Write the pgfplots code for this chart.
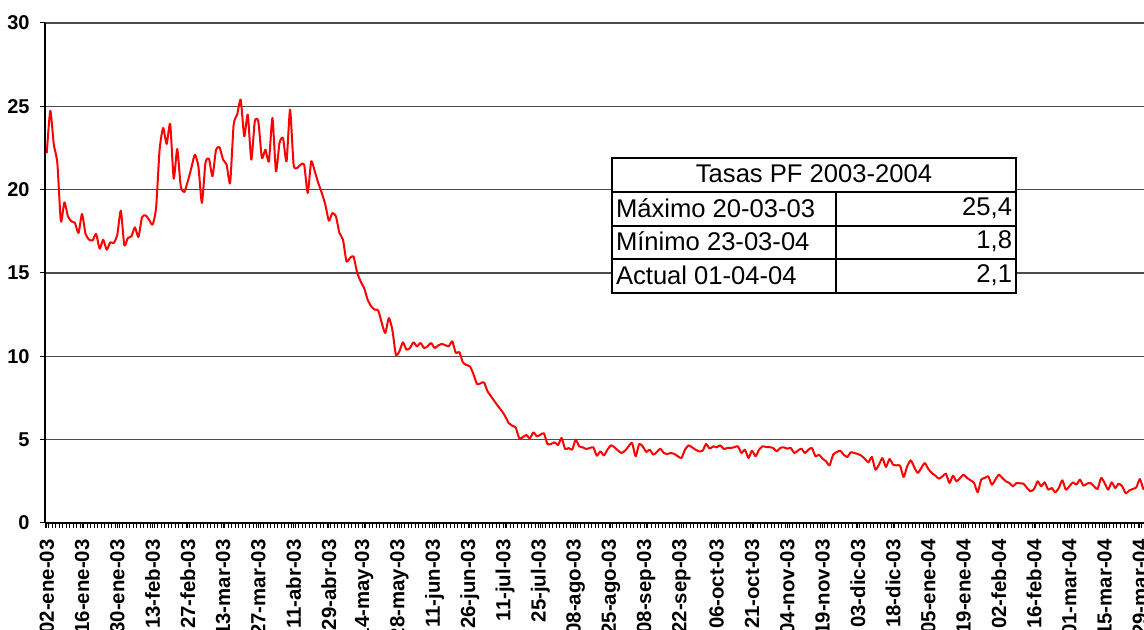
\documentclass[border=0pt]{standalone}
\usepackage{fontspec}
\setmainfont{Liberation Sans}
\usepackage{pgfplots}
\pgfplotsset{compat=1.18}

\begin{document}
\begin{tikzpicture}
\begin{axis}[
    at={(0,0)}, anchor=south west,
    scale only axis,
    width=553.6pt, height=250pt,
    xmin=-0.5, xmax=313.5,
    ymin=0, ymax=30,
    axis x line*=bottom, axis y line*=left,
    axis line style={black, line width=0.6pt},
    ytick={0,5,...,30},
    ymajorgrids,
    major grid style={black!70, line width=0.6pt},
    tick align=outside,
    major tick length=2.5pt,
    minor tick length=2.5pt,
    tick style={black, line width=0.5pt},
    xtick={0,10,...,310},
    xticklabels={02-ene-03,16-ene-03,30-ene-03,13-feb-03,27-feb-03,13-mar-03,27-mar-03,11-abr-03,29-abr-03,14-may-03,28-may-03,11-jun-03,26-jun-03,11-jul-03,25-jul-03,08-ago-03,25-ago-03,08-sep-03,22-sep-03,06-oct-03,21-oct-03,04-nov-03,19-nov-03,03-dic-03,18-dic-03,05-ene-04,19-ene-04,02-feb-04,16-feb-04,01-mar-04,15-mar-04,29-mar-04},
    minor xtick={-0.5,0.5,...,313.5},
    xticklabel style={rotate=90, anchor=east, inner sep=0pt, font=\fontsize{10.2}{11}\selectfont\bfseries},
    xticklabel shift=5.5pt,
    yticklabel style={inner sep=0pt, font=\fontsize{10}{11}\selectfont\bfseries, /pgf/number format/assume math mode=true},
    yticklabel shift=5pt,
    clip=true,
]
\addplot[color=red, line width=1pt, line join=round, mark=none, smooth, tension=0.35] coordinates {
(0,22.2) (1,24.74) (2,22.7) (3,21.6) (4,18.1) (5,19.24) (6,18.4) (7,18.1) (8,18.0) (9,17.4)
(10,18.54) (11,17.34) (12,17.0) (13,16.96) (14,17.34) (15,16.46) (16,17.0) (17,16.4) (18,16.84) (19,16.8)
(20,17.3) (21,18.74) (22,16.66) (23,17.1) (24,17.2) (25,17.74) (26,17.16) (27,18.34) (28,18.46) (29,18.2)
(30,17.9) (31,18.9) (32,22.4) (33,23.7) (34,22.74) (35,23.94) (36,20.66) (37,22.44) (38,20.2) (39,19.86)
(40,20.5) (41,21.3) (42,22.1) (43,21.4) (44,19.2) (45,21.6) (46,21.86) (47,20.8) (48,22.4) (49,22.54)
(50,21.8) (51,21.5) (52,20.4) (53,23.9) (54,24.5) (55,25.4) (56,23.2) (57,24.5) (58,21.8) (59,24.1)
(60,24.1) (61,21.9) (62,22.4) (63,21.7) (64,24.3) (65,21.1) (66,22.8) (67,23.1) (68,21.7) (69,24.8)
(70,21.5) (71,21.3) (72,21.5) (73,21.5) (74,19.8) (75,21.7) (76,21.1) (77,20.4) (78,19.8) (79,19.1)
(80,18.14) (81,18.6) (82,18.4) (83,17.4) (84,17.0) (85,15.7) (86,15.9) (87,16.0) (88,15.04) (89,14.5)
(90,14.1) (91,13.4) (92,13.0) (93,12.8) (94,12.76) (95,12.0) (96,11.4) (97,12.3) (98,11.6) (99,10.1)
(100,10.3) (101,10.84) (102,10.4) (103,10.5) (104,10.84) (105,10.6) (106,10.8) (107,10.5) (108,10.6) (109,10.8)
(110,10.5) (111,10.65) (112,10.74) (113,10.68) (114,10.6) (115,10.9) (116,10.2) (117,10.26) (118,9.64) (119,9.48)
(120,9.4) (121,8.94) (122,8.34) (123,8.38) (124,8.44) (125,7.9) (126,7.6) (127,7.3) (128,7.0) (129,6.74)
(130,6.4) (131,6.0) (132,5.84) (133,5.72) (134,5.08) (135,5.15) (136,5.28) (137,5.08) (138,5.44) (139,5.2)
(140,5.3) (141,5.38) (142,4.74) (143,4.74) (144,4.84) (145,4.68) (146,5.1) (147,4.44) (148,4.5) (149,4.4)
(150,5.0) (151,4.6) (152,4.54) (153,4.44) (154,4.5) (155,4.54) (156,4.04) (157,4.3) (158,4.05) (159,4.4)
(160,4.66) (161,4.54) (162,4.35) (163,4.2) (164,4.34) (165,4.6) (166,4.8) (167,4.0) (168,4.74) (169,4.6)
(170,4.26) (171,4.4) (172,4.1) (173,4.26) (174,4.46) (175,4.2) (176,4.14) (177,4.2) (178,4.14) (179,4.0)
(180,3.9) (181,4.4) (182,4.66) (183,4.54) (184,4.4) (185,4.3) (186,4.34) (187,4.74) (188,4.46) (189,4.6)
(190,4.54) (191,4.66) (192,4.44) (193,4.5) (194,4.5) (195,4.55) (196,4.6) (197,4.2) (198,4.4) (199,3.9)
(200,4.34) (201,4.0) (202,4.4) (203,4.6) (204,4.56) (205,4.55) (206,4.5) (207,4.3) (208,4.5) (209,4.54)
(210,4.46) (211,4.5) (212,4.2) (213,4.34) (214,4.46) (215,4.2) (216,4.4) (217,4.5) (218,4.0) (219,4.1)
(220,3.86) (221,3.7) (222,3.46) (223,4.1) (224,4.25) (225,4.34) (226,4.1) (227,3.96) (228,4.24) (229,4.2)
(230,4.14) (231,4.04) (232,3.85) (233,3.64) (234,3.96) (235,3.2) (236,3.5) (237,3.9) (238,3.36) (239,3.84)
(240,3.5) (241,3.46) (242,3.44) (243,2.76) (244,3.4) (245,3.76) (246,3.36) (247,3.0) (248,3.3) (249,3.6)
(250,3.24) (251,3.0) (252,2.84) (253,2.66) (254,2.8) (255,2.96) (256,2.4) (257,2.84) (258,2.5) (259,2.7)
(260,2.9) (261,2.7) (262,2.56) (263,2.4) (264,1.84) (265,2.6) (266,2.7) (267,2.8) (268,2.3) (269,2.6)
(270,2.9) (271,2.7) (272,2.5) (273,2.4) (274,2.2) (275,2.4) (276,2.38) (277,2.36) (278,2.1) (279,1.9)
(280,2.04) (281,2.5) (282,2.2) (283,2.44) (284,2.0) (285,2.1) (286,1.84) (287,2.1) (288,2.56) (289,2.0)
(290,2.2) (291,2.44) (292,2.3) (293,2.6) (294,2.24) (295,2.36) (296,2.4) (297,2.2) (298,2.04) (299,2.7)
(300,2.4) (301,2.0) (302,2.44) (303,2.1) (304,2.36) (305,2.2) (306,1.78) (307,1.95) (308,2.04) (309,2.14)
(310,2.64) (311,2.04) (312,2.2) (313,2.1)
};
\end{axis}
% summary table
\begin{scope}[line width=1pt, font=\fontsize{12.8}{14}\selectfont]
  \fill[white] (283.5pt,115pt) rectangle (485.5pt,182.5pt);
  \draw (283.5pt,115pt) rectangle (485.5pt,182.5pt);
  \draw (283.5pt,165.5pt) -- (485.5pt,165.5pt);
  \draw (283.5pt,148.5pt) -- (485.5pt,148.5pt);
  \draw (283.5pt,132pt) -- (485.5pt,132pt);
  \draw (395.5pt,115pt) -- (395.5pt,165.5pt);
  \node at (384.5pt,174.5pt) {Tasas PF 2003-2004};
  \node[anchor=west, inner sep=1.5pt] at (283.5pt,157.5pt) {Máximo 20-03-03};
  \node[anchor=west, inner sep=1.5pt] at (283.5pt,140.75pt) {Mínimo 23-03-04};
  \node[anchor=west, inner sep=1.5pt] at (283.5pt,124pt) {Actual 01-04-04};
  \node[anchor=east, inner sep=1.5pt] at (485.5pt,157.5pt) {25,4};
  \node[anchor=east, inner sep=1.5pt] at (485.5pt,140.75pt) {1,8};
  \node[anchor=east, inner sep=1.5pt] at (485.5pt,124pt) {2,1};
\end{scope}
\pgfresetboundingbox
\path[use as bounding box] (-22.5pt,-53.5pt) rectangle (549.5pt,261.5pt);
\end{tikzpicture}
\end{document}
